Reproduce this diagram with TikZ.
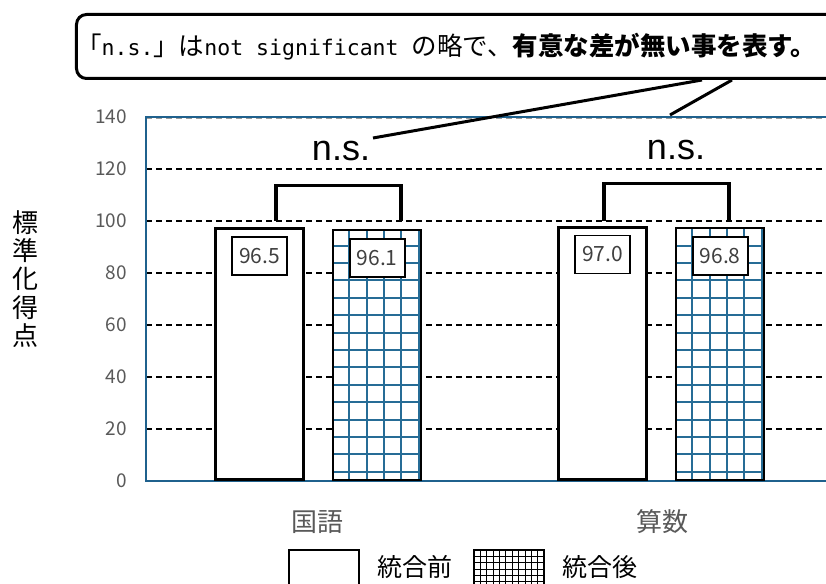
\documentclass[tikz,border=0pt]{standalone}
\usepackage{fontspec}
\setmainfont{Noto Sans CJK JP}
\newfontfamily\latfont{Liberation Sans}
\newfontfamily\monofont{DejaVu Sans Mono}
\usetikzlibrary{positioning}
\definecolor{achsblau}{RGB}{31,97,141}
\definecolor{gitterblau}{RGB}{38,108,150}
\definecolor{skalagrau}{RGB}{89,89,89}
\tikzset{
  raster/.style={black, line width=1.3pt, dash pattern=on 6pt off 4pt},
  achse/.style={achsblau, line width=1.6pt},
  gitter/.style={gitterblau, line width=2pt},
  balken/.style={draw=black, line width=3.2pt, fill=white, inner sep=0pt, minimum width=88pt},
  strichbalken/.style={balken, line width=2.2pt,
    path picture={
      \foreach \i in {0,...,4}
        \draw[gitter] ([xshift=16pt+\i*17.4pt]path picture bounding box.south west) -- ([xshift=16pt+\i*17.4pt]path picture bounding box.north west);
      \foreach \j in {0,...,14}
        \draw[gitter] ([yshift=8pt+\j*17.4pt]path picture bounding box.south west) -- ([yshift=8pt+\j*17.4pt]path picture bounding box.south east);
    }},
  wertbox/.style={draw=black, line width=1.8pt, fill=white, inner sep=0pt, minimum width=55pt, minimum height=38pt, text=black!75, font=\fontsize{21}{21}\selectfont},
  klammer/.style={line width=3.2pt},
  skala/.style={text=skalagrau, anchor=east, inner sep=0pt, font=\fontsize{19}{19}\selectfont},
  kategorie/.style={text=skalagrau, font=\fontsize{26}{26}\selectfont},
  nslabel/.style={font=\latfont\fontsize{36}{36}\selectfont, inner sep=0pt},
  zeiger/.style={line width=3pt},
  legbox/.style={draw=black, line width=1.8pt, fill=white, minimum width=70pt, minimum height=50pt, anchor=north west},
  legtext/.style={font=\fontsize{25}{25}\selectfont}
}
\begin{document}
\begin{tikzpicture}[x=1pt,y=1pt]
%1 Punkt auf der Skala = 2.6pt, Ursprung liegt im Nullpunkt des Diagramms
  \pgfmathsetmacro{\s}{2.6}
  \useasboundingbox (-146,-102) rectangle (680,481);
  \clip (-146,-102) rectangle (680,481);
\foreach \w in {20,40,...,120}{
  \draw[raster] (0,\s*\w) -- (680,\s*\w);
}
\draw[raster, skalagrau!60] (0,\s*140-1.5) -- (680,\s*140-1.5);
\draw[achse] (680,\s*140) -- (0,\s*140) -- (0,0) -- (680,0);
\foreach \w in {0,20,...,140}{
  \node[skala] (t\w) at (-19,\s*\w) {\w};
}
%Balken mit Wertkasten
\foreach \name/\xl/\val/\stil in {b1/68/96.5/balken, b2/186/96.1/strichbalken, b3/411/97.0/balken, b4/529/96.8/strichbalken}{
  \node[\stil, anchor=south west, minimum height={\s*\val*1pt}] (\name) at (\xl,0) {};
  \node[wertbox, below=9pt of \name.north] (w\name) {\val};
}
%Klammern
\coordinate (k1l) at (130,\s*100);
\coordinate (k1r) at (255,\s*100);
\coordinate (k2l) at (458,\s*100);
\coordinate (k2r) at (583,\s*100);
\draw[klammer] (k1l) -- ++(0,\s*13.8) -| (k1r);
\draw[klammer] (k2l) -- ++(0,\s*14.3) -| (k2r);
\node[nslabel] (ns1) at (195,330) {n.s.};
\node[nslabel] (ns2) at (530,331) {n.s.};
%Sprechblase
\node[draw=black, line width=3pt, rounded corners=10pt, fill=white, anchor=north west, minimum width=800pt, minimum height=64pt] (blase) at (-71,468) {};
\node[anchor=west, inner sep=0pt, font=\fontsize{25.5}{25.5}\selectfont] (hinweis) at ([xshift=1pt]blase.west) {「{\monofont\fontsize{21.5}{25}\selectfont n.s.}」は{\monofont\fontsize{21.5}{25}\selectfont not significant }の略で、{\bfseries 有意な差が無い事を表す。}};
\coordinate (z1) at (227,343);
\coordinate (z2) at (524,366);
\draw[zeiger] ([xshift=627pt]blase.south west) -- (z1);
\draw[zeiger] ([xshift=657pt]blase.south west) -- (z2);
%Achsenbeschriftung
\node[align=center, font=\fontsize{26}{28.4}\selectfont] (ylabel) at (-120,202) {標\\準\\化\\得\\点};
\node[kategorie] (kat1) at (171,-41) {国語};
\node[kategorie] (kat2) at (516,-41) {算数};
%Legende
\node[legbox] (leg1) at (142,-68) {};
\node[legtext] (legt1) at (269,-86) {統合前};
\node[legbox, path picture={
    \foreach \i in {1,...,10}
      \draw[black, line width=0.9pt] ([xshift=\i*6.4pt]path picture bounding box.south west) -- ([xshift=\i*6.4pt]path picture bounding box.north west);
    \foreach \j in {1,...,7}
      \draw[black, line width=0.9pt] ([yshift=-\j*6.4pt]path picture bounding box.north west) -- ([yshift=-\j*6.4pt]path picture bounding box.north east);
  }] (leg2) at (327,-68) {};
\node[legtext] (legt2) at (454,-86) {統合後};
\end{tikzpicture}
\end{document}
